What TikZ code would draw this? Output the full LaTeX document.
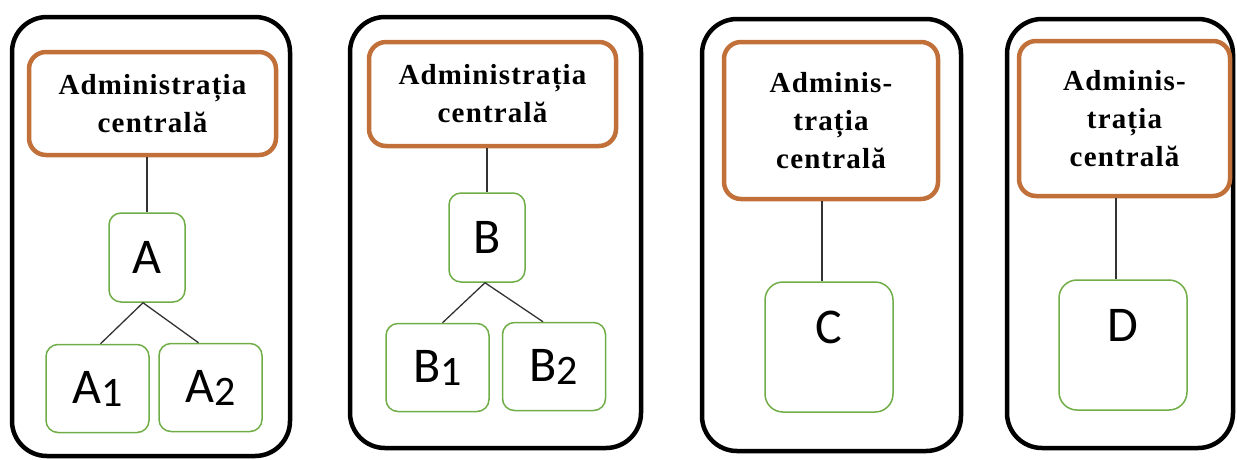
\documentclass[tikz,border=0pt]{standalone}
\usepackage{fontspec}
\setmainfont{Liberation Serif}
\newfontfamily\calibri{Carlito}
\definecolor{rust}{RGB}{192,112,56}
\definecolor{leaf}{RGB}{112,173,71}
\newcommand{\idx}[1]{\raisebox{-3pt}{\fontsize{42}{42}\selectfont #1}}
\begin{document}
\begin{tikzpicture}
    [
    x=1pt,y=-1pt,
    panel/.style={line width=4.5pt,rounded corners=35pt},
    central/.style={draw=rust,line width=4.5pt,rounded corners=17pt,align=center,inner sep=0pt,
      font=\bfseries\addfontfeature{LetterSpace=4}\fontsize{29}{38}\selectfont},
    unit/.style={draw=leaf,line width=1.5pt,rounded corners=12pt,inner sep=0pt,
      minimum width=76pt,minimum height=89pt,font=\calibri\fontsize{50}{50}\selectfont},
    subunit/.style={unit,minimum width=103pt,minimum height=88pt},
    bigunit/.style={unit,minimum width=128pt,minimum height=130pt,rounded corners=18pt,text depth=40pt},
    link/.style={line width=1.3pt,black!80}
    ]
    \useasboundingbox (0,0) rectangle (1237,459);

    % first model
    \draw [panel] (12,17) rectangle (290,456);
    \node (adm1) at (152.5,103.5) [central,minimum width=247pt,minimum height=103pt] {Administrația\\centrală};
    \node (a) at (147,257.5) [unit] {A};
    \node (a1) at (97.5,388.5) [subunit] {A\idx{1}};
    \node (a2) at (210.5,387.5) [subunit] {A\idx{2}};
    \draw [link] (a.north |- adm1.south) to (a.north);
    \draw [link] ([xshift=-4pt]a.south) to ([xshift=3pt]a1.north);
    \draw [link] ([xshift=-4pt]a.south) to ([xshift=-12pt]a2.north);

    % second model
    \draw [panel] (350,17) rectangle (641,448);
    \node (adm2) at (492.5,94) [central,minimum width=247pt,minimum height=104pt] {Administrația\\centrală};
    \node (b) at (487,237.5) [unit] {B};
    \node (b1) at (437.5,367.5) [subunit] {B\idx{1}};
    \node (b2) at (554,366.5) [subunit] {B\idx{2}};
    \draw [link] (b.north |- adm2.south) to (b.north);
    \draw [link] ([xshift=-2pt]b.south) to ([xshift=5pt]b1.north);
    \draw [link] ([xshift=-2pt]b.south) to ([xshift=-11pt]b2.north);

    % third model
    \draw [panel] (702,19) rectangle (961,451);
    \node (adm3) at (831,120.5) [central,minimum width=214pt,minimum height=157pt] {Adminis-\\trația\\centrală};
    \node (c) at (829,347) [bigunit] {C};
    \draw [link] ([xshift=-7pt]c.north |- adm3.south) to ([xshift=-7pt]c.north);

    % fourth model
    \draw [panel] (1007,19) rectangle (1233,448);
    \node (adm4) at (1124.5,118.5) [central,minimum width=211pt,minimum height=155pt] {Adminis-\\trația\\centrală};
    \node (d) at (1123,345) [bigunit] {D};
    \draw [link] ([xshift=-7pt]d.north |- adm4.south) to ([xshift=-7pt]d.north);
  \end{tikzpicture}
\end{document}
